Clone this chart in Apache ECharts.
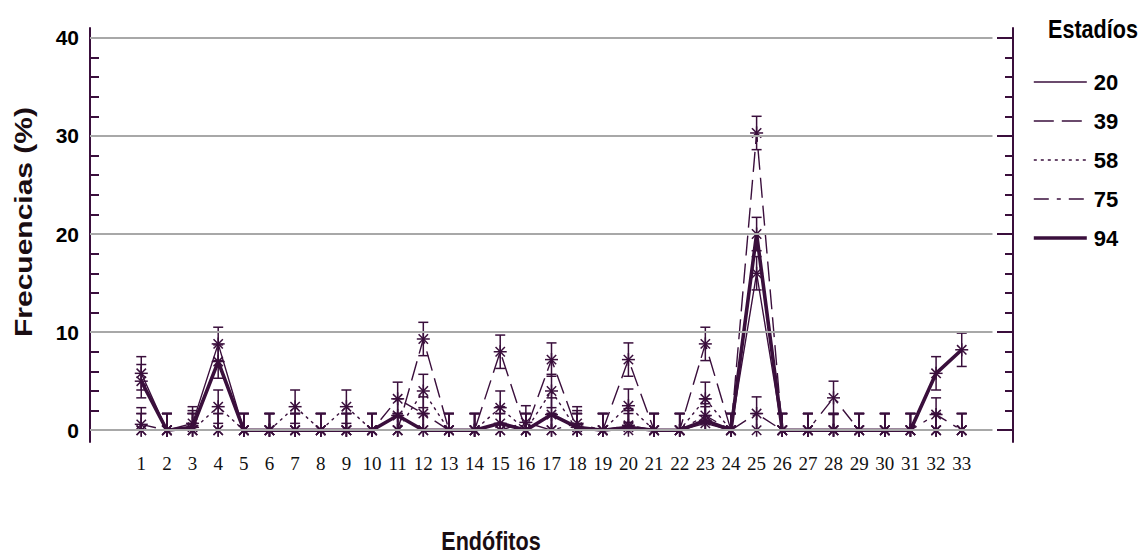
<!DOCTYPE html>
<html>
<head>
<meta charset="utf-8">
<script src="https://cdn.jsdelivr.net/npm/echarts@6/dist/echarts.min.js"></script>
<style>
  html, body { margin: 0; padding: 0; background: #ffffff; }
  #chart { width: 1141px; height: 555px; }
</style>
</head>
<body>
<div id="chart"></div>
<script>
// Endophyte isolates (x) and frequency (%) per phenological stage
const endofitos = [1, 2, 3, 4, 5, 6, 7, 8, 9, 10, 11, 12, 13, 14, 15, 16, 17,
                   18, 19, 20, 21, 22, 23, 24, 25, 26, 27, 28, 29, 30, 31, 32, 33];
const estadios = ['20', '39', '58', '75', '94'];

const frec20 = [5.8, 0, 0.7, 8.8, 0, 0, 0, 0, 0, 0, 0, 0, 0, 0, 0, 0, 0,
                0, 0, 0, 0, 0, 0.7, 0, 16.0, 0, 0, 0, 0, 0, 0, 0, 0];
const frec39 = [0, 0, 0, 0, 0, 0, 0, 0, 0, 0, 0, 9.3, 0, 0, 8.0, 0, 7.2,
                0, 0, 7.2, 0, 0, 8.8, 0, 30.3, 0, 0, 0, 0, 0, 0, 0, 0];
const frec58 = [0, 0, 0, 2.4, 0, 0, 2.4, 0, 2.4, 0, 0, 4.0, 0, 0, 2.3, 0, 4.0,
                0, 0, 2.5, 0, 0, 3.2, 0, 0, 0, 0, 0, 0, 0, 0, 0, 0];
const frec75 = [0.6, 0, 0, 0, 0, 0, 0, 0, 0, 0, 3.2, 1.7, 0, 0, 0, 0.8, 0,
                0.7, 0, 0.5, 0, 0, 1.5, 0, 1.7, 0, 0, 3.3, 0, 0, 0, 1.6, 0];
const frec94 = [5.0, 0, 0.3, 7.0, 0, 0, 0, 0, 0, 0, 1.5, 0, 0, 0, 0.7, 0, 1.6,
                0.3, 0, 0.3, 0, 0, 1.0, 0, 20.0, 0, 0, 0, 0, 0, 0, 5.8, 8.2];

// standard error drawn as whiskers around every mean
const errorEE = 1.7;

const yTicks = [0, 10, 20, 30, 40];
const yMinorTicks = [2, 4, 6, 8, 12, 14, 16, 18, 22, 24, 26, 28, 32, 34, 36, 38];

const frecuencias = [frec20, frec39, frec58, frec75, frec94];

const ink = '#3a0f3c';
const sans = "'Liberation Sans', Arial, sans-serif";

const lineStyles = [
  { width: 1.4, type: 'solid' },
  { width: 1.4, type: [20, 8] },
  { width: 1.4, type: [3, 4] },
  { width: 1.4, type: [15, 8, 4, 8] },
  { width: 3.6, type: 'solid' }
];

const chart = echarts.init(document.getElementById('chart'), null, { renderer: 'svg' });

function renderMeanWithError(params, api) {
  const x = api.value(0);
  const y = api.value(1);
  const e = api.value(2);
  const c = api.coord([x, y]);
  const top = api.coord([x, y + e]);
  const low = api.coord([x, Math.max(0, y - e)]);
  const st = { stroke: ink, lineWidth: 1.5 };
  const cap = 5;
  const r = 6.5;
  const d = r * 0.72;
  const kids = [
    { type: 'line', shape: { x1: c[0], y1: top[1], x2: c[0], y2: low[1] }, style: st },
    { type: 'line', shape: { x1: c[0] - cap, y1: top[1], x2: c[0] + cap, y2: top[1] }, style: st },
    // asterisk marker
    { type: 'line', shape: { x1: c[0] - r, y1: c[1], x2: c[0] + r, y2: c[1] }, style: st },
    { type: 'line', shape: { x1: c[0], y1: c[1] - r, x2: c[0], y2: c[1] + r }, style: st },
    { type: 'line', shape: { x1: c[0] - d, y1: c[1] - d, x2: c[0] + d, y2: c[1] + d }, style: st },
    { type: 'line', shape: { x1: c[0] - d, y1: c[1] + d, x2: c[0] + d, y2: c[1] - d }, style: st }
  ];
  if (y - e > 0) {
    kids.push({ type: 'line', shape: { x1: c[0] - cap, y1: low[1], x2: c[0] + cap, y2: low[1] }, style: st });
  }
  return { type: 'group', children: kids };
}

const series = [];

// horizontal reference lines
series.push({
  name: 'rejilla',
  type: 'line',
  data: [],
  z: 1,
  silent: true,
  markLine: {
    silent: true,
    symbol: 'none',
    label: { show: false },
    lineStyle: { color: '#a8a8a8', width: 2, type: 'solid' },
    data: yTicks.map(t => [{ coord: [-1, t] }, { coord: [34.2, t] }])
  }
});

estadios.forEach((name, k) => {
  series.push({
    name: name,
    type: 'line',
    z: 3,
    symbol: 'none',
    color: ink,
    lineStyle: Object.assign({ color: ink }, lineStyles[k]),
    data: frecuencias[k].map((v, i) => [endofitos[i], v])
  });
});

estadios.forEach((name, k) => {
  series.push({
    name: name,
    type: 'custom',
    z: 4,
    renderItem: renderMeanWithError,
    encode: { x: 0, y: 1 },
    data: frecuencias[k].map((v, i) => [endofitos[i], v, errorEE])
  });
});

function yAxisDef(position, values, len, showLine, showLabel) {
  return {
    type: 'value',
    position: position,
    min: -1.2,
    max: 41,
    axisLine: { show: showLine, onZero: false, lineStyle: { color: ink, width: 2 } },
    axisTick: { show: true, inside: true, length: len, customValues: values, lineStyle: { color: ink, width: 2 } },
    axisLabel: {
      show: showLabel,
      customValues: values,
      margin: 11,
      fontFamily: sans,
      fontWeight: 'bold',
      fontSize: 21,
      color: '#000000'
    },
    splitLine: { show: false }
  };
}

const option = {
  backgroundColor: '#ffffff',
  animation: false,
  grid: { left: 90, right: 128, top: 28, bottom: 113, containLabel: false },
  xAxis: {
    type: 'value',
    min: -1,
    max: 35,
    interval: 1,
    axisLine: { show: false },
    axisTick: { show: false },
    splitLine: { show: false },
    axisLabel: {
      margin: 12,
      fontFamily: "'Liberation Serif', 'Times New Roman', serif",
      fontSize: 19,
      color: '#111111',
      formatter: v => (endofitos.indexOf(v) >= 0 ? String(v) : '')
    }
  },
  yAxis: [
    yAxisDef('left', yTicks, 17, true, true),
    yAxisDef('left', yMinorTicks, 9, false, false),
    yAxisDef('right', yTicks, 16, true, false),
    yAxisDef('right', yMinorTicks, 8, false, false)
  ],
  legend: {
    data: estadios.map((name, k) => ({
      name: name,
      lineStyle: { width: lineStyles[k].width, type: lineStyles[k].type, color: ink }
    })),
    orient: 'vertical',
    left: 1027,
    top: 66,
    itemWidth: 53,
    itemHeight: 14,
    itemGap: 17,
    selectedMode: false,
    itemStyle: { opacity: 0 },
    textStyle: {
      fontFamily: sans,
      fontWeight: 'bold',
      fontSize: 22,
      lineHeight: 22,
      color: '#000000',
      padding: [0, 0, 0, 2]
    }
  },
  graphic: [
    {
      type: 'text',
      x: 24,
      y: 222,
      rotation: Math.PI / 2,
      scaleY: 0.8,
      style: {
        text: 'Frecuencias (%)',
        fontFamily: sans,
        fontWeight: 'bold',
        fontSize: 30,
        fill: '#1a0d12',
        align: 'center',
        verticalAlign: 'middle'
      }
    },
    {
      type: 'text',
      x: 491,
      y: 541,
      scaleX: 0.83,
      style: {
        text: 'Endófitos',
        fontFamily: sans,
        fontWeight: 'bold',
        fontSize: 26,
        fill: '#1a0d12',
        align: 'center',
        verticalAlign: 'middle'
      }
    },
    {
      type: 'text',
      x: 1093,
      y: 29,
      scaleX: 0.83,
      style: {
        text: 'Estadíos',
        fontFamily: sans,
        fontWeight: 'bold',
        fontSize: 26,
        fill: '#000000',
        align: 'center',
        verticalAlign: 'middle'
      }
    }
  ],
  series: series
};

chart.setOption(option);
</script>
</body>
</html>
